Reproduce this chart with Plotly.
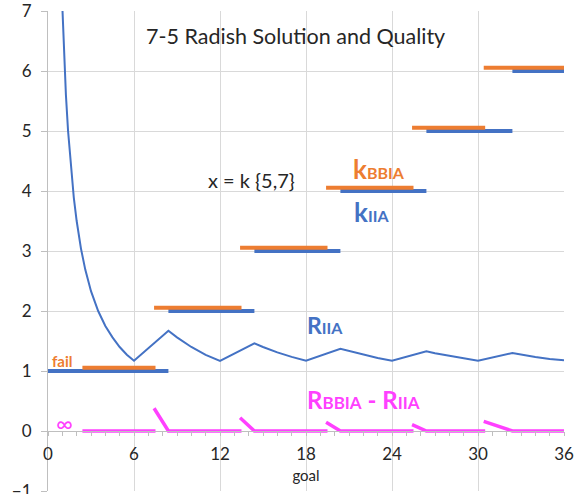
import plotly.graph_objects as go

# ---------------- data ----------------
# R_IIA curve (thin blue line)
r_iia_x = [0.95, 1.1, 1.25, 1.4, 1.6, 1.8, 2.0, 2.3, 2.6, 3.0, 3.5, 4.0, 4.5, 5.0, 5.5, 6.0,
           8.4, 9.0, 10.0, 11.0, 12.0,
           14.4, 15.0, 16.0, 17.0, 18.0,
           20.4, 21.0, 22.0, 23.0, 24.0,
           26.4, 27.0, 28.0, 29.0, 30.0,
           32.4, 33.0, 34.0, 35.0, 36.0]
r_iia_y = [7.37, 6.36, 5.6, 5.0, 4.38, 3.89, 3.5, 3.04, 2.69, 2.33, 2.0, 1.75, 1.56, 1.4, 1.27, 1.17,
           1.67, 1.56, 1.4, 1.27, 1.17,
           1.46, 1.4, 1.31, 1.235, 1.17,
           1.37, 1.333, 1.273, 1.217, 1.17,
           1.33, 1.296, 1.25, 1.207, 1.17,
           1.3, 1.273, 1.235, 1.2, 1.18]

# k_IIA steps (blue)
k_iia_value = [1, 2, 3, 4, 5, 6]
k_iia_start = [0, 8.4, 14.4, 20.4, 26.4, 32.4]
k_iia_end = [8.4, 14.4, 20.4, 26.4, 32.4, 36]

# k_BBIA steps (orange)
k_bbia_value = [1.055, 2.055, 3.055, 4.055, 5.055, 6.055]
k_bbia_start = [2.4, 7.4, 13.4, 19.4, 25.4, 30.4]
k_bbia_end = [7.5, 13.5, 19.5, 25.5, 30.5, 36]

# R_BBIA - R_IIA (magenta)
diff_first_flat = [2.4, 7.5]
diff_jump_x = [7.4, 13.4, 19.4, 25.4, 30.4]
diff_jump_y = [0.38, 0.22, 0.145, 0.105, 0.16]
diff_zero_x = [8.4, 14.4, 20.4, 26.4, 32.4]
diff_end_x = [13.5, 19.5, 25.5, 30.5, 36]

x_ticks = [0, 6, 12, 18, 24, 30, 36]

# ---------------- styling ----------------
BLUE = "#4472C4"
ORANGE = "#ED7D31"
MAGENTA = "#FF40FF"
GRID = "#d9d9d9"
TXT = "#262626"
FONT = "Lato"


def steps(vals, starts, ends):
    xs, ys = [], []
    for v, s, e in zip(vals, starts, ends):
        xs += [s, e, None]
        ys += [v, v, None]
    return xs, ys


fig = go.Figure()

kx, ky = steps(k_iia_value, k_iia_start, k_iia_end)
fig.add_trace(go.Scatter(x=kx, y=ky, mode="lines", line=dict(color=BLUE, width=4)))

bx, by = steps(k_bbia_value, k_bbia_start, k_bbia_end)
fig.add_trace(go.Scatter(x=bx, y=by, mode="lines", line=dict(color=ORANGE, width=4)))

fig.add_trace(go.Scatter(x=r_iia_x, y=r_iia_y, mode="lines",
                         line=dict(color=BLUE, width=2)))

dx = [diff_first_flat[0], diff_first_flat[1], None]
dy = [0, 0, None]
for jx, jy, zx, ex in zip(diff_jump_x, diff_jump_y, diff_zero_x, diff_end_x):
    dx += [jx, zx, ex, None]
    dy += [jy, 0, 0, None]
fig.add_trace(go.Scatter(x=dx, y=dy, mode="lines", line=dict(color=MAGENTA, width=3.5)))

# invisible trace on the crossing x-axis (at y = 0)
fig.add_trace(go.Scatter(x=[0, 36], y=[0, 0], mode="lines", xaxis="x2",
                         line=dict(width=0), hoverinfo="skip", showlegend=False))

fig.update_layout(
    width=579, height=494,
    margin=dict(l=48, r=15, t=11, b=3, autoexpand=False),
    paper_bgcolor="white", plot_bgcolor="white",
    showlegend=False,
    font=dict(family=FONT, color=TXT),
    xaxis=dict(range=[0, 36], dtick=6, tick0=0, showgrid=True, gridcolor=GRID, gridwidth=1,
               showticklabels=False, zeroline=False, showline=False, ticks="", automargin=False),
    xaxis2=dict(range=[0, 36], overlaying="x", anchor="free", position=0.125, side="bottom",
                tickvals=x_ticks, showgrid=False, zeroline=False, showline=True, automargin=False,
                linecolor="#bfbfbf", linewidth=1, ticks="outside", ticklen=4, tickcolor="#bfbfbf",
                minor=dict(dtick=1, tick0=0, ticks="outside", ticklen=4, tickcolor="#bfbfbf"),
                tickfont=dict(size=17, color=TXT, family=FONT), ticklabelstandoff=4,
                title=dict(text="goal", font=dict(size=15, color=TXT, family=FONT), standoff=7)),
    yaxis=dict(range=[-1, 7], dtick=1, tick0=0, showgrid=True, gridcolor=GRID, gridwidth=1,
               zeroline=False, showline=True, linecolor="#bfbfbf", linewidth=1, automargin=False,
               ticks="outside", ticklen=6, tickcolor="#bfbfbf", ticklabeloverflow="allow",
               tickfont=dict(size=17, color=TXT, family=FONT), ticklabelstandoff=6),
)

ann = [
    dict(text="7-5 Radish Solution and Quality", x=17.3, y=6.58, xanchor="center",
         yanchor="middle", font=dict(size=21.5, color=TXT)),
    dict(text="x = k {5,7}", x=11.0, y=4.18, xanchor="left", yanchor="middle",
         font=dict(size=20, color=TXT)),
    dict(text="<b>k<span style='font-size:16px'>BBIA</span></b>", x=21.15, y=4.36,
         xanchor="left", yanchor="middle", font=dict(size=26, color=ORANGE)),
    dict(text="<b>k<span style='font-size:16px'>IIA</span></b>", x=21.2, y=3.65,
         xanchor="left", yanchor="middle", font=dict(size=26, color=BLUE)),
    dict(text="<b>R<span style='font-size:16px'>IIA</span></b>", x=17.95, y=1.76,
         xanchor="left", yanchor="middle", font=dict(size=23, color=BLUE)),
    dict(text="<b>R<span style='font-size:17px'>BBIA</span> - R<span style='font-size:17px'>IIA</span></b>",
         x=17.95, y=0.52, xanchor="left", yanchor="middle", font=dict(size=24, color=MAGENTA)),
    dict(text="<b>fail</b>", x=0.15, y=1.16, xanchor="left", yanchor="middle",
         font=dict(size=15, color=ORANGE)),
    dict(text="∞", x=1.17, y=0.13, xanchor="center", yanchor="middle",
         font=dict(size=23, color=MAGENTA)),
]
for a in ann:
    a.update(xref="x", yref="y", showarrow=False)
    fig.add_annotation(**a)

fig.write_html("out.html")
